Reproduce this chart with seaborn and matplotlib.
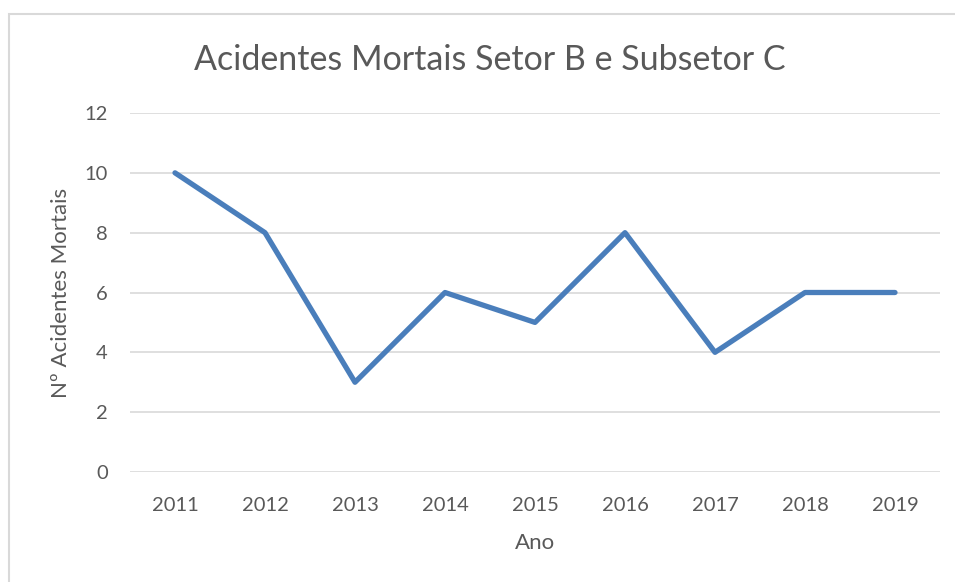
import matplotlib
matplotlib.use("Agg")
import matplotlib.pyplot as plt
import seaborn as sns
import pandas as pd
from matplotlib.patches import Rectangle

anos = ["2011", "2012", "2013", "2014", "2015", "2016", "2017", "2018", "2019"]
acidentes = [10, 8, 3, 6, 5, 8, 4, 6, 6]
yticks = [0, 2, 4, 6, 8, 10, 12]

sns.set_theme(style="white")
plt.rcParams['font.family'] = ['Lato', 'DejaVu Sans']

df = pd.DataFrame({"Ano": anos, "Acidentes": acidentes})

fig = plt.figure(figsize=(9.55, 5.82), dpi=100)
fig.patch.set_facecolor("white")
fig.patches.append(Rectangle((9/955, -0.1), 1.2, 1 - 14/582 + 0.1, transform=fig.transFigure,
                             fill=False, edgecolor="#d9d9d9", linewidth=1.5))
ax = fig.add_axes([130/955, 1 - 472/582, 810/955, 359/582])

sns.lineplot(data=df, x="Ano", y="Acidentes", ax=ax, color="#4a7ebb", linewidth=3.8,
             sort=False, solid_capstyle="round", solid_joinstyle="round")

ax.set_ylim(0, 12)
ax.set_yticks(yticks)
ax.set_xlim(-0.5, len(anos) - 0.5)
ax.yaxis.grid(True, color="#d9d9d9", linewidth=1.2)
ax.set_axisbelow(True)
for s in ax.spines.values():
    s.set_visible(False)
ax.tick_params(axis="both", length=0, labelsize=14.5, labelcolor="#595959")
ax.tick_params(axis="x", pad=18)
ax.tick_params(axis="y", pad=16)
ax.set_xlabel("Ano", fontsize=16, color="#595959", labelpad=14)
ax.set_ylabel("Nº Acidentes Mortais", fontsize=16, color="#595959", labelpad=10)
fig.text(490/955, 1 - 60/582, "Acidentes Mortais Setor B e Subsetor C", ha="center", va="center",
         fontsize=24.5, color="#595959")

fig.savefig("out.png", dpi=100, facecolor="white")
